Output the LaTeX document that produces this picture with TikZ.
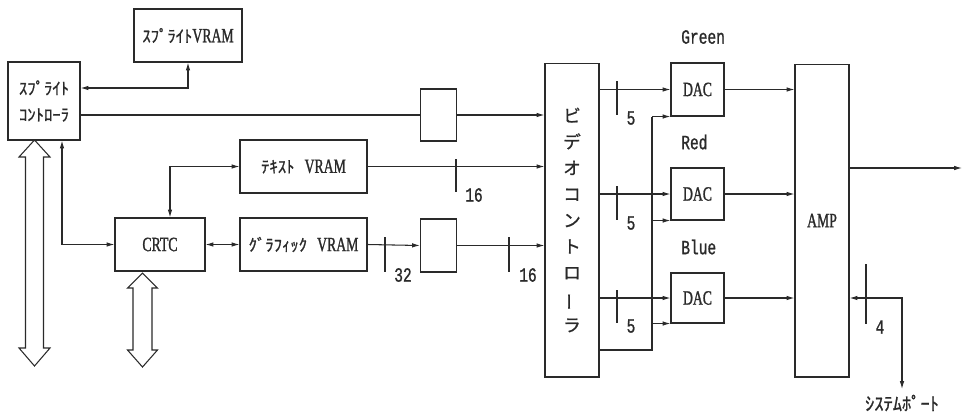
\documentclass[tikz,border=0pt]{standalone}
\usepackage{fontspec}
\setmainfont[FakeStretch=0.68, FakeBold=1.2]{Liberation Serif}
\newfontfamily\jp[FakeBold=1]{Noto Sans CJK JP}
\newfontfamily\mono[FakeStretch=0.72, FakeBold=1]{Liberation Mono}
\usepackage{tikz}
\usetikzlibrary{arrows.meta}
\definecolor{ink}{HTML}{2A2A2A}
\newcommand{\kana}[1]{{\jp\fontsize{9.5}{14}\selectfont#1}}

\begin{document}
\begin{tikzpicture}[x=0.02cm, y=-0.02cm, line width=0.6pt, color=ink,
    blk/.style={draw, inner sep=0pt, font=\fontsize{11.5}{14}\selectfont},
    arr/.style={-{Latex[length=4.5pt,width=2.6pt]}},
    dbl/.style={{Latex[length=4.5pt,width=2.6pt]}-{Latex[length=4.5pt,width=2.6pt]}},
    num/.style={font=\mono\fontsize{11.5}{12}\selectfont, inner sep=1pt},
    hollow/.style={draw, fill=white, line join=miter}]
  \useasboundingbox (0,0) rectangle (963,413);
  % sprite part
  \node[blk, minimum width=2.16cm, minimum height=1.06cm] (svram) at (188,35.5) {\kana{ｽﾌﾟﾗｲﾄ}VRAM};
  \node[blk, minimum width=1.44cm, minimum height=1.56cm, align=center] (sctl) at (44,101) {\kana{ｽﾌﾟﾗｲﾄ}\\[1pt]\kana{ｺﾝﾄﾛｰﾗ}};
  % CRTC and VRAMs
  \node[blk, minimum width=1.80cm, minimum height=1.06cm] (crtc) at (160,244.5) {CRTC};
  \node[blk, minimum width=2.54cm, minimum height=1.06cm] (tvram) at (303.5,166.5) {\kana{ﾃｷｽﾄ}\hspace{0.5em}VRAM};
  \node[blk, minimum width=2.54cm, minimum height=1.06cm] (gvram) at (303.5,244.5) {\kana{ｸﾞﾗﾌｨｯｸ}\hspace{0.5em}VRAM};
  \node[blk, minimum width=0.72cm, minimum height=1.04cm] (latcha) at (438.5,115) {};
  \node[blk, minimum width=0.72cm, minimum height=1.06cm] (latchb) at (438.5,245.5) {};
  % video controller
  \node[blk, minimum width=1.08cm, minimum height=6.28cm, align=center,
        font=\jp\fontsize{10}{14.9}\selectfont] (vctl) at (572,220)
        {ビ\\デ\\オ\\コ\\ン\\ト\\ロ\\\rotatebox[origin=c]{90}{ー}\\ラ};
  % DACs and AMP
  \node[blk, minimum width=1.06cm, minimum height=1.06cm] (dacg) at (697.5,89.5) {DAC};
  \node[blk, minimum width=1.06cm, minimum height=1.04cm] (dacr) at (697.5,194) {DAC};
  \node[blk, minimum width=1.06cm, minimum height=1.00cm] (dacb) at (697.5,298) {DAC};
  \node[blk, minimum width=1.08cm, minimum height=6.26cm] (amp) at (822,220.5) {AMP};
  \node[num, anchor=west] (lgreen) at (679,37) {Green};
  \node[num, anchor=west] (lred) at (679,142) {Red};
  \node[num, anchor=west] (lblue) at (679,247) {Blue};
  \node[font=\jp\fontsize{10.5}{12}\selectfont, inner sep=1pt] (sport) at (902,403) {ｼｽﾃﾑﾎﾟｰﾄ};
  \coordinate (rgbout) at (962,168);
  % connectors
  \draw[dbl] (sctl.east |- 0,88) -| (svram.south);
  \draw (sctl.east |- latcha.west) -- (latcha.west);
  \draw[arr] (latcha.east) -- (vctl.west |- latcha.east);
  \draw[dbl] (62,0 |- sctl.south) |- (crtc.west);
  \draw[dbl] (170,0 |- crtc.north) |- (tvram.west);
  \draw[dbl] (crtc.east) -- (gvram.west);
  \draw[arr] (tvram.east) -- (vctl.west |- tvram.east);
  \draw[arr] (gvram.east) -- (latchb.west);
  \draw[arr] (latchb.east) -- (vctl.west |- latchb.east);
  \foreach \dac in {dacg, dacr, dacb} {
    \draw[arr] (vctl.east |- \dac.west) -- (\dac.west);
    \draw[arr] (652,0 |- \dac.south west) -- (\dac.south west);
    \draw[arr] (\dac.east) -- (amp.west |- \dac.east);
  }
  \draw (vctl.east |- 0,350) -| (652,0 |- dacg.south west);
  \draw[arr] (amp.east |- rgbout) -- (rgbout);
  \draw[dbl, shorten >=2pt] (amp.east |- dacb.east) -| (sport.north);
  % bus width marks
  \foreach \tx/\ta/\tb/\lx/\lab in {456/159/192/474/16, 385/237/272/403/32, 509/237/272/528/16,
      617/81/115/631/5, 617/186/220/631/5, 617/290/323/631/5, 866/264/324/880/4}
  {
    \draw (\tx,\ta) -- (\tx,\tb);
    \node[num] (w-\tx-\ta) at (\lx,\tb+3) {\lab};
  }
  % hollow bus arrows
  \draw[hollow] (34.5,140) -- (50,157) -- (43.5,157) -- (43.5,348) -- (50,348) -- (34.5,366)
               -- (19,348) -- (25.5,348) -- (25.5,157) -- (19,157) -- cycle;
  \draw[hollow] (142.5,273) -- (157.5,288) -- (152,288) -- (152,350) -- (157.5,350) -- (142.5,367)
               -- (127.5,350) -- (133,350) -- (133,288) -- (127.5,288) -- cycle;
\end{tikzpicture}
\end{document}
